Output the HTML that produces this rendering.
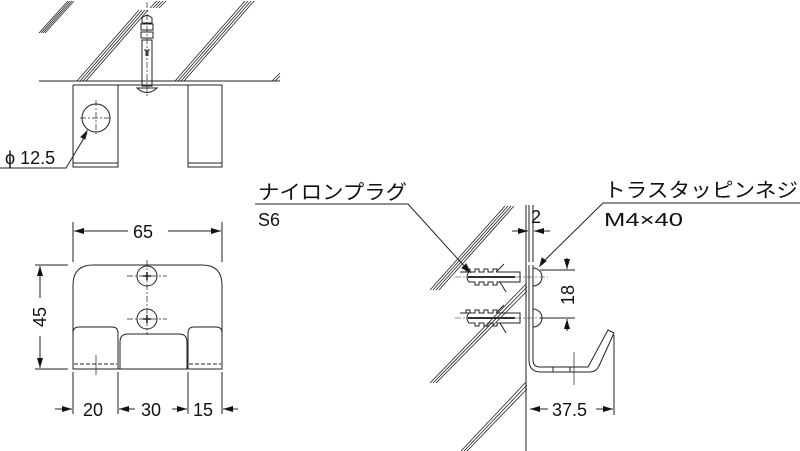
<!DOCTYPE html>
<html><head><meta charset="utf-8"><style>
html,body{margin:0;padding:0;background:#fff;}
svg{display:block;}
text{font-family:"Liberation Sans","Noto Sans CJK JP",sans-serif;fill:#111;}
</style></head><body>
<svg width="800" height="451" viewBox="0 0 800 451" xmlns="http://www.w3.org/2000/svg">
<defs>
<marker id="a" viewBox="0 0 10 6" refX="10" refY="3" markerWidth="10" markerHeight="6" orient="auto-start-reverse" markerUnits="userSpaceOnUse"><path d="M0,0 L10,3 L0,6 z" fill="#111"/></marker>
</defs>
<g stroke="#222" stroke-width="1" fill="none">
<g stroke-width="0.8">
<path d="M39,33 L68,1 M41,33 L70,1 M43,33 L72,1 M45,33 L74,1"/>
<path d="M77,81 L139,10 M80,81 L142,10 M83,81 L145,10 M86,81 L148,10"/>
<path d="M150,8 L157,1 M153,8 L160,1 M156,8 L163,1 M159,8 L166,1"/>
<path d="M175,81 L245,1 M178,81 L248,1 M181,81 L251,1 M184,81 L254,1"/>
<path d="M272,81 L280,73 M275,81 L280,76"/>
</g>
<line x1="39" y1="81" x2="280" y2="81"/>
<line x1="73" y1="85" x2="222" y2="85"/>
<path d="M73,85 V167 H118 V85"/>
<line x1="73" y1="163" x2="118" y2="163"/>
<path d="M188,85 V167 H222 V85"/>
<line x1="188" y1="163" x2="222" y2="163"/>
<circle cx="96" cy="118" r="14"/>
<path d="M80,118 H112 M96,100 V134" stroke-dasharray="6,2,2,2" stroke-width="0.7"/>
<path d="M142,18 q5,-5 10,0 v5 h-10z M141,24 h12 v6 h-12z M141,32 h12 v6 h-12z M142,40 h10 v46 h-10z"/>
<path d="M144,50 h2 v6 M150,50 h-2 v6"/>
<path d="M137,88 q10,9 20,0 z"/>
<line x1="147" y1="2" x2="147" y2="97" stroke-dasharray="6,2,2,2" stroke-width="0.7"/>
<path d="M0,168 H66 L87,133" />
<path d="M87,131 l-6,6 l4,2 z" fill="#111"/>

<path d="M73,369 V285 Q73,265 93,265 H202 Q222,265 222,285 V369 Z"/>
<path d="M73,369 V333 Q73,327 79,327 H112 Q118,327 118,333 V369"/>
<path d="M120,369 V342 Q120,334 128,334 H179 Q187,334 187,342 V369"/>
<path d="M188,369 V333 Q188,327 194,327 H216 Q222,327 222,333"/>
<path d="M74,364 H117 M189,364 H221" stroke-dasharray="4,2"/>
<line x1="96" y1="355" x2="96" y2="375" stroke-width="0.7"/>
<circle cx="147" cy="276" r="10"/><circle cx="147" cy="319" r="10"/>
<path d="M143,276h8M147,272v8M143,319h8M147,315v8" stroke-width="1.5"/>
<path d="M127,276H167M127,319H167M147,260V335" stroke-dasharray="6,2,2,2" stroke-width="0.7"/>
<path d="M73,262V222M222,262V222"/>
<line x1="74" y1="231" x2="128" y2="231" marker-start="url(#a)"/>
<line x1="168" y1="231" x2="221" y2="231" marker-end="url(#a)"/>
<path d="M35,265H68M35,369H68"/>
<line x1="40" y1="266" x2="40" y2="298" marker-start="url(#a)"/>
<line x1="40" y1="336" x2="40" y2="368" marker-end="url(#a)"/>
<path d="M73,372V414M118,372V414M188,372V414M222,372V414"/>
<line x1="55" y1="409" x2="72" y2="409" marker-end="url(#a)"/>
<line x1="119" y1="409" x2="135" y2="409" marker-start="url(#a)"/>
<line x1="172" y1="409" x2="187" y2="409" marker-end="url(#a)"/>
<line x1="223" y1="409" x2="238" y2="409" marker-start="url(#a)"/>

<g stroke-width="0.8">
<path d="M430,290 L505,206 M433,290 L508,206 M436,290 L511,206 M439,290 L514,206"/>
<path d="M430,383 L526,284 M433,383 L527,287 M436,383 L527,291"/>
<path d="M461,451 L526,382 M464,451 L527,385 M467,451 L527,389"/>
</g>
<line x1="526" y1="205" x2="526" y2="451"/>
<line x1="529" y1="205" x2="529" y2="262"/>
<path d="M529,265 V360 Q529,372 541,372 H590 Q596,372 599,366 L614,333 M533,265 V360 Q533,367 540,367 H588 L608,330 L614,333"/>
<path d="M553,367v5M570,367v5"/>
<line x1="574" y1="352" x2="574" y2="385" stroke-width="0.7"/>
<g>
<path d="M460,272 h6 v-3 h4 v3 h5 v-3 h4 v3 h5 v-3 h4 v3 h5 v-3 h4 v3 h23 v10 h-23 v3 h-4 v-3 h-5 v3 h-4 v-3 h-5 v3 h-4 v-3 h-6 q-4,-5 0,-10z"/>
<path d="M460,313 h6 v-3 h4 v3 h5 v-3 h4 v3 h5 v-3 h4 v3 h5 v-3 h4 v3 h23 v10 h-23 v3 h-4 v-3 h-5 v3 h-4 v-3 h-5 v3 h-4 v-3 h-6 q-4,-5 0,-10z"/>
<path d="M496,272 l8,-8 M500,282 l6,10 M496,313 l8,-8 M500,323 l6,10"/>
<path d="M468,277H515M468,318H515" stroke-width="2" stroke="#333"/>
<path d="M533,268 a9,9 0 0 1 0,18 M533,309 a9,9 0 0 1 0,18"/>
<path d="M455,277H548M455,318H548" stroke-dasharray="6,2,2,2" stroke-width="0.6"/>
</g>
<path d="M533,205V262"/>
<line x1="512" y1="231" x2="528" y2="231" marker-end="url(#a)"/>
<line x1="550" y1="231" x2="534" y2="231" marker-end="url(#a)"/>
<path d="M540,270H575M540,318H575"/>
<line x1="567" y1="258" x2="567" y2="269" marker-end="url(#a)"/>
<line x1="567" y1="331" x2="567" y2="319" marker-end="url(#a)"/>
<path d="M614,335V415"/>
<line x1="530" y1="409" x2="548" y2="409" marker-start="url(#a)"/>
<line x1="596" y1="409" x2="613" y2="409" marker-end="url(#a)"/>
<path d="M255,204 H408 L466,268"/>
<path d="M470,272 l-8,-4 l4,-4 z" fill="#111"/>
<path d="M800,203 H603 L543,262"/>
<path d="M540,266 l2,-8 l4,3 z" fill="#111"/>
</g>
<g font-size="18">
<text x="5" y="164">ϕ 12.5</text>
<text x="133" y="238">65</text>
<text x="83" y="416">20</text>
<text x="141" y="416">30</text>
<text x="193" y="416">15</text>
<text transform="translate(46,317) rotate(-90)" text-anchor="middle">45</text>
<text x="258" y="199" font-size="20" textLength="149" lengthAdjust="spacingAndGlyphs">ナイロンプラグ</text>
<text x="258" y="226" textLength="22" lengthAdjust="spacingAndGlyphs">S6</text>
<text x="604" y="197" font-size="20" textLength="194" lengthAdjust="spacingAndGlyphs">トラスタッピンネジ</text>
<text x="604" y="226" textLength="79" lengthAdjust="spacingAndGlyphs">M4×40</text>
<text x="531" y="223">2</text>
<text transform="translate(574,295) rotate(-90)" text-anchor="middle">18</text>
<text x="552" y="416">37.5</text>
</g>
</svg>
</body></html>
